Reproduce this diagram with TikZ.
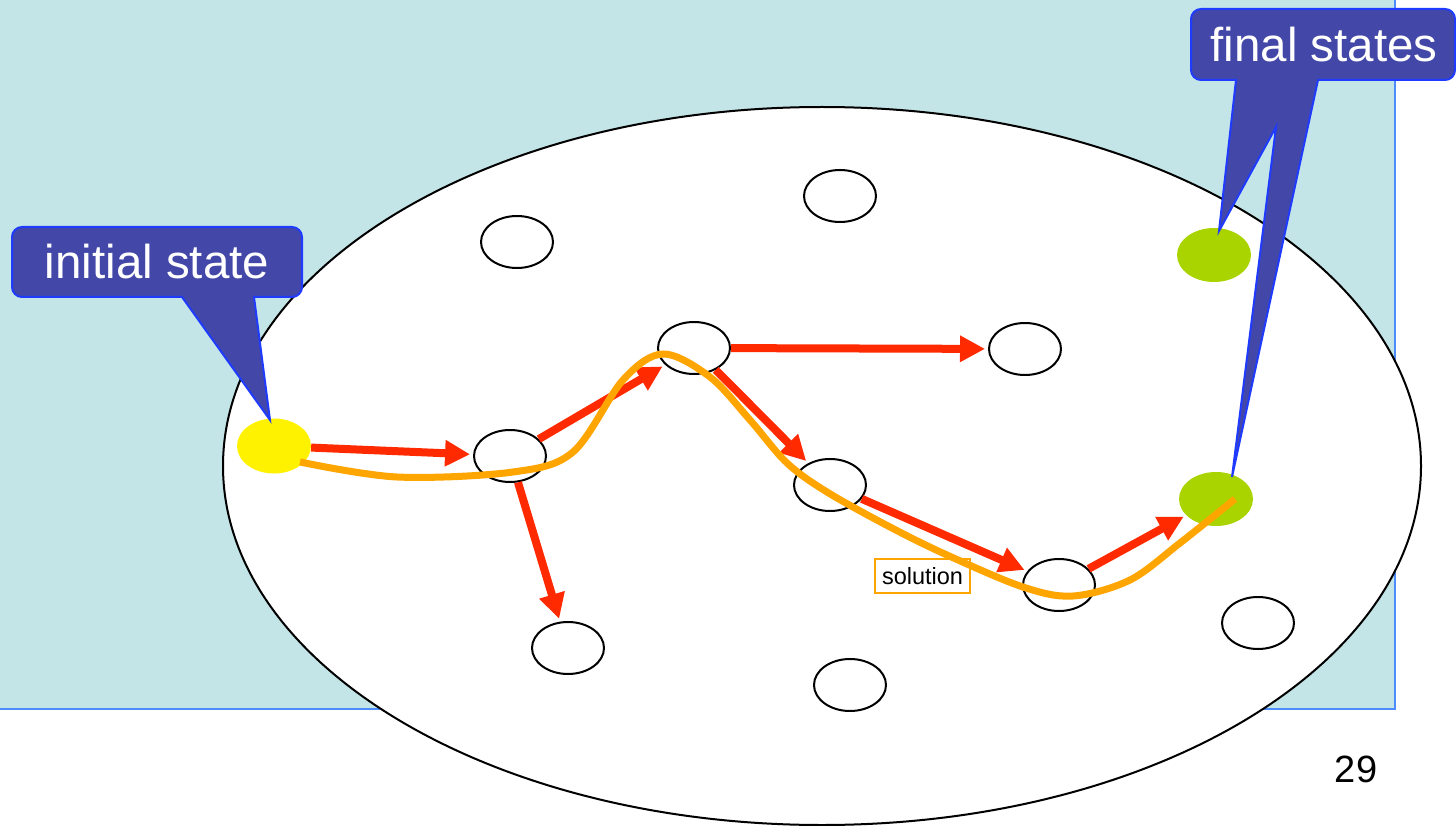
\documentclass[tikz,border=0pt]{standalone}
\usepackage{fontspec}
\setmainfont{Liberation Sans}
\usetikzlibrary{shapes.geometric,arrows.meta}

\definecolor{slidebg}{HTML}{C4E5E8}
\definecolor{frameblue}{HTML}{4C8CFF}
\definecolor{calloutfill}{HTML}{4348A8}
\definecolor{calloutline}{HTML}{1F3BFF}
\definecolor{pathred}{HTML}{FF2A00}
\definecolor{pathorange}{HTML}{FFA500}
\definecolor{goalgreen}{HTML}{AAD400}

\tikzset{
  state/.style={ellipse, draw=black, line width=2pt, fill=white,
                minimum width=72pt, minimum height=52pt, inner sep=0pt},
  startstate/.style={ellipse, fill=yellow, minimum width=74pt, minimum height=55pt, inner sep=0pt},
  goalstate/.style={ellipse, fill=goalgreen, minimum width=74pt, minimum height=54pt, inner sep=0pt},
  move/.style={draw=pathred, line width=8pt, shorten >=3pt,
               -{Triangle[length=25pt,width=25pt]}},
  callout/.style={fill=calloutfill, draw=calloutline, line width=2pt, line join=miter},
  callouttext/.style={text=white, font=\fontsize{47.5}{50}\selectfont, inner sep=0pt},
}

\begin{document}
\begin{tikzpicture}[x=1pt,y=-1pt]
  \useasboundingbox (0,0) rectangle (1456,826);
  \clip (0,0) rectangle (1456,826);

  % slide panel
  \fill[slidebg] (-5,-5) rectangle (1395,709);
  \draw[frameblue, line width=2pt] (1395,-5) -- (1395,709) -- (-5,709);

  % state space
  \node[ellipse, draw=black, fill=white, line width=2pt,
        minimum width=1198pt, minimum height=718pt, inner sep=0pt] (space) at (822,466) {};

  % states
  \node[startstate] (s0) at (274,446) {};
  \node[state] (a) at (517,242) {};
  \node[state] (b) at (840,196) {};
  \node[state] (c) at (694,348) {};
  \node[state] (d) at (1025,349) {};
  \node[state] (e) at (510,456) {};
  \node[state] (f) at (830,485) {};
  \node[state] (g) at (1059,585) {};
  \node[state] (h) at (568,648) {};
  \node[state] (i) at (850,685) {};
  \node[state] (j) at (1258,623) {};
  \node[goalstate] (t1) at (1214,255) {};
  \node[goalstate] (t2) at (1216,499) {};

  % explored moves
  \draw[move] (s0) -- (e);
  \draw[move] (e) -- (c);
  \draw[move] (e) -- (h);
  \draw[move] (c) -- (d);
  \draw[move] (c) -- (f);
  \draw[move] (f) -- (g);
  \draw[move] (g) -- (t2);

  % solution path
  \draw[pathorange, line width=7pt, line cap=butt] plot[smooth, tension=0.55] coordinates {
    (300,462) (397,477) (513,472) (573,452) (623,380) (663,354) (710,377)
    (750,420) (787,463) (827,492) (890,527) (947,555) (1023,587) (1073,596)
    (1130,580) (1180,543) (1235,499)};
  \node[draw=pathorange, line width=1.5pt, minimum width=95pt, minimum height=34pt,
        inner sep=0pt, font=\fontsize{23.5}{26}\selectfont] (sol) at (922.5,576) {solution};

  % callout: initial state
  \draw[callout] (182,297) -- (270,420) -- (254,297)
     {[rounded corners=10pt] -- (302,297) -- (302,227) -- (12,227) -- (12,297)} -- cycle;
  \node[callouttext] (lblinit) at (157,262) {initial state};

  % callout: final states
  \draw[callout] (1236,80) -- (1219,231) -- (1276,127) -- (1232,477) -- (1318,80)
     {[rounded corners=10pt] -- (1455,80) -- (1455,9) -- (1191,9) -- (1191,80)} -- cycle;
  \node[callouttext] (lblfinal) at (1324,44.5) {final states};

  % page number
  \node[font=\fontsize{38}{40}\selectfont, inner sep=0pt] (page) at (1356,769) {29};
\end{tikzpicture}
\end{document}
